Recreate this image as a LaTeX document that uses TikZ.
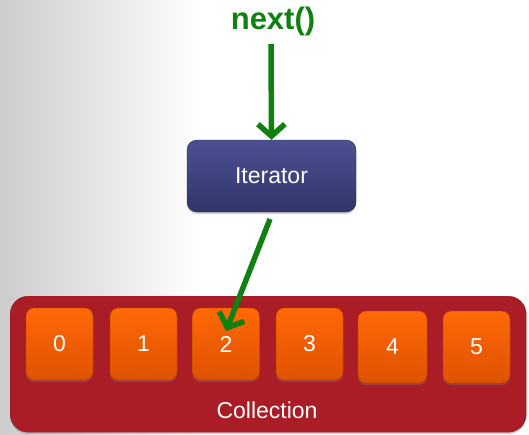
\documentclass[tikz,border=0pt]{standalone}
\usepackage{fontspec}
\setmainfont{Liberation Sans}
\usetikzlibrary{arrows.meta,shadows}
\definecolor{arrgreen}{RGB}{16,128,16}
\definecolor{itertop}{RGB}{76,80,146}
\definecolor{iterbot}{RGB}{50,53,104}
\definecolor{collred}{RGB}{170,28,38}
\definecolor{orgtop}{RGB}{255,104,8}
\definecolor{orgbot}{RGB}{222,82,0}
\tikzset{
  cellbox/.style={rounded corners=8pt, minimum width=67pt, minimum height=72pt,
    top color=orgtop, bottom color=orgbot, draw=orgbot!80!black, line width=0.4pt,
    text=white, font=\fontsize{23}{26}\selectfont,
    drop shadow={shadow xshift=0pt, shadow yshift=-2pt, opacity=0.35}},
  iterbox/.style={rounded corners=10pt, minimum width=169pt, minimum height=72pt,
    top color=itertop, bottom color=iterbot, draw=iterbot!80!black,
    text=white, font=\fontsize{23}{26}\selectfont,
    drop shadow={shadow xshift=0pt, shadow yshift=-2pt, opacity=0.35}},
  collbox/.style={rounded corners=18pt, fill=collred, draw=collred!85!black,
    drop shadow={shadow xshift=0pt, shadow yshift=-2pt, opacity=0.35}},
  garrow/.style={draw=arrgreen, line width=5.5pt,
    -{Straight Barb[length=12pt,width=27pt]}},
}
\begin{document}
\begin{tikzpicture}[x=1pt,y=-1pt]
\useasboundingbox (0,0) rectangle (529,434);
\shade[left color=black!20, right color=white] (0,0) rectangle (200,434);
\fill[white] (199.5,0) rectangle (529,434);
% collection
\node[collbox, minimum width=516pt, minimum height=136pt, anchor=north west] (coll) at (10,296) {};
\node[text=white, font=\fontsize{23}{26}\selectfont] (colllabel) at (267,410) {Collection};
\node[cellbox] (c0) at (59.5,344) {0};
\node[cellbox] (c1) at (143.5,344) {1};
\node[cellbox] (c2) at (226,344) {2};
\node[cellbox] (c3) at (309.5,344) {3};
\node[cellbox, minimum width=69pt] (c4) at (392.5,347) {4};
\node[cellbox] (c5) at (476.5,347) {5};
% iterator
\node[iterbox] (iter) at (271.5,176) {Iterator};
% next
\node[text=arrgreen, font=\fontsize{31}{34}\selectfont\bfseries] (next) at (273,21) {next()};
\coordinate (a1s) at (271,44);
\coordinate (a2s) at (270,219);
\coordinate (a2e) at (226,331);
\draw[garrow] (a1s) -- (iter.north);
\draw[garrow] (a2s) -- (a2e);
\end{tikzpicture}
\end{document}
